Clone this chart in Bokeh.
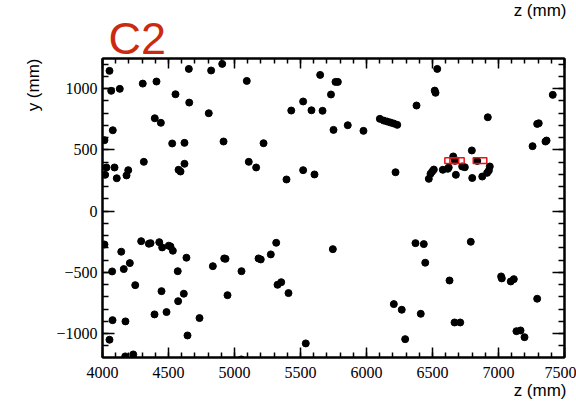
import math
from bokeh.plotting import figure
from bokeh.models import Range1d, SingleIntervalTicker, LinearAxis, Title, CustomJSTickFormatter
from bokeh.embed import file_html
from bokeh.resources import INLINE

# hit positions (z, y) in mm
z_mm = [4053, 4066, 4131, 4015, 4078, 4020, 4030, 4091, 4108, 4182, 4195, 4305, 4409, 4313,
        4396, 4442, 4528, 4553, 4576, 4591, 4621, 4621, 4654, 4657, 4805, 4823, 4907, 4917,
        5093, 5108, 5164, 5220, 5394, 5430, 5520, 5520, 5583, 5606, 5649, 5667, 5731, 5750,
        5765, 5783, 5858, 5977, 6101, 6131, 6157, 6182, 6207, 6233, 6220, 6379, 6536, 6517,
        6523, 6472, 6485, 6498, 6510, 6578, 6616, 6623, 6657, 6670, 6677, 6725, 6745, 6798,
        6801, 6839, 6877, 6919, 6914, 6927, 6934, 7258, 7293, 7305, 7356, 7364, 7411,
        4015, 4073, 4076, 4053, 4142, 4161, 4174, 4172, 4207, 4233, 4248, 4293, 4351, 4364,
        4430, 4447, 4452, 4394, 4485, 4502, 4515, 4533, 4570, 4573, 4616, 4636, 4644, 4735,
        4836, 4922, 4932, 4947, 5051, 5053, 5182, 5199, 5275, 5316, 5326, 5354, 5409, 5540,
        5745, 6207, 6267, 6293, 6371, 6434, 6445, 6411, 6629, 6667, 6710, 6790, 7020, 7025,
        7093, 7116, 7136, 7167, 7197, 7293]
y_mm = [1146, 983, 999, 580, 661, 297, 357, 357, 269, 292, 335, 1042, 1059, 403,
        759, 722, 553, 955, 338, 324, 558, 387, 1162, 887, 800, 1149, 1203, 569,
        1064, 403, 357, 555, 259, 822, 896, 335, 824, 300, 1113, 820, 953, 664,
        1056, 1056, 702, 656, 754, 740, 732, 724, 716, 705, 318, 863, 1162, 985,
        967, 264, 305, 324, 340, 338, 346, 357, 447, 411, 297, 365, 359, 496,
        271, 410, 283, 767, 313, 332, 365, 531, 713, 718, 569, 577, 950,
        -272, -492, -890, -1050, -331, -473, -900, -1186, -424, -1170, -604, -245, -266, -261,
        -253, -653, -296, -843, -824, -282, -288, -323, -490, -735, -674, -380, -1015, -873,
        -449, -386, -389, -686, -1211, -490, -386, -394, -353, -258, -601, -580, -669, -1080,
        -310, -759, -805, -1045, -261, -269, -421, -838, -566, -909, -909, -250, -533, -549,
        -574, -555, -980, -974, -1029, -715]

# highlighted segments (red boxes)
box_z = [6646, 6686, 6860]
box_y = [412, 412, 412]
box_w = [105, 108, 103]
box_h = [47, 47, 47]

title_text = "C2"
x_label = "z (mm)"
y_label = "y (mm)"

p = figure(width=576, height=402, output_backend="svg", toolbar_location=None,
           x_range=Range1d(4000, 7500), y_range=Range1d(-1195, 1247),
           min_border_left=102, min_border_right=12, min_border_top=58, min_border_bottom=45,
           x_axis_type=None, y_axis_type=None, title=None)
p.xgrid.visible = False
p.ygrid.visible = False
p.outline_line_color = "black"
p.outline_line_width = 2
p.background_fill_color = "white"
p.border_fill_color = "white"

serif = "Liberation Serif"
sans = "Liberation Sans"

def make_axis(kind, labels):
    t = SingleIntervalTicker(interval=500, num_minor_ticks=5)
    ax = LinearAxis(ticker=t)
    ax.axis_line_color = "black"
    ax.axis_line_width = 2
    ax.major_tick_line_width = 1.5
    ax.minor_tick_line_width = 1.5
    ax.major_tick_out = 0
    ax.minor_tick_out = 0
    if kind == "x":
        ax.major_tick_in = 10
        ax.minor_tick_in = 5
    else:
        ax.major_tick_in = 12
        ax.minor_tick_in = 6
    if labels:
        ax.major_label_text_font = serif
        ax.major_label_text_font_size = "16px"
        ax.major_label_text_color = "black"
        ax.major_label_standoff = 9 if kind == "x" else 5
        ax.major_label_overrides = {-500: "\u2212500", -1000: "\u22121000"}
    else:
        ax.formatter = CustomJSTickFormatter(code="return ''")
        ax.major_label_standoff = 0
        ax.major_label_text_font_size = "1px"
    return ax

p.add_layout(make_axis("x", True), "below")
p.add_layout(make_axis("y", True), "left")
p.add_layout(make_axis("x", False), "above")
p.add_layout(make_axis("y", False), "right")

p.scatter(z_mm, y_mm, size=7, color="black", marker="circle")
p.rect(box_z, box_y, width=box_w, height=box_h, fill_color=None, line_color="#ee1111", line_width=1.5)

# C2 title (above, left)
p.add_layout(Title(text=title_text, align="left", offset=6, standoff=-10,
                   text_font=sans, text_font_size="45px", text_font_style="normal",
                   text_color="#cc2a10"), "above")
# repeated z label at the top right
p.add_layout(Title(text=x_label, align="right", offset=-2, standoff=-8,
                   text_font=sans, text_font_size="17px", text_font_style="normal",
                   text_color="black"), "above")
# x axis title (below, right)
p.add_layout(Title(text=x_label, align="right", offset=-2, standoff=-4,
                   text_font=sans, text_font_size="17px", text_font_style="normal",
                   text_color="black"), "below")
# y axis title (left, top)
p.add_layout(Title(text=y_label, align="right", standoff=22,
                   text_font=sans, text_font_size="17px", text_font_style="normal",
                   text_color="black"), "left")

open("out.html", "w").write(file_html(p, INLINE))
